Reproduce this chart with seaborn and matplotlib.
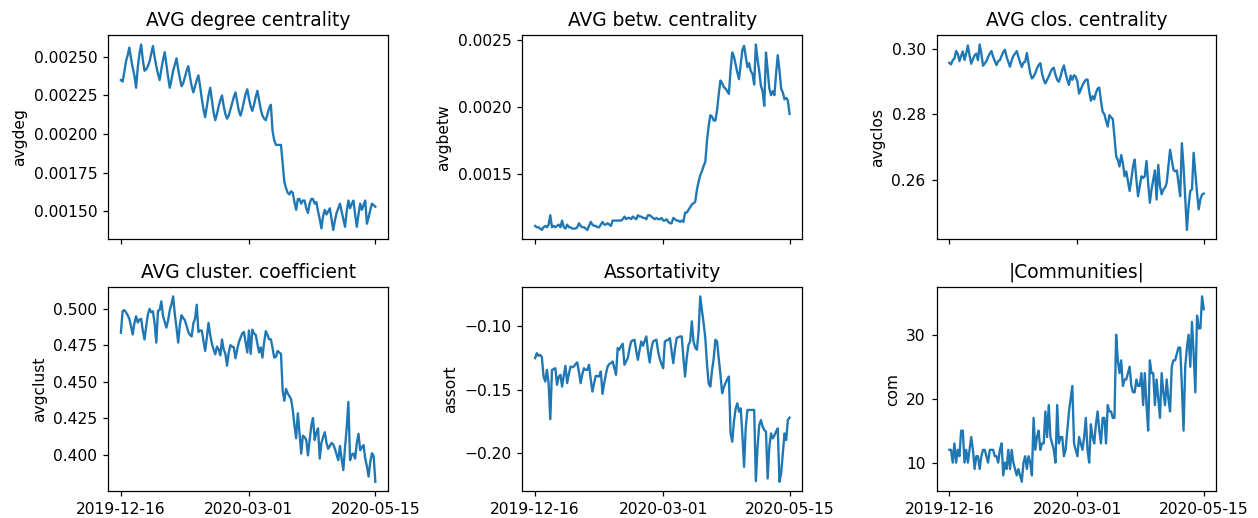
import matplotlib
matplotlib.use("Agg")
import matplotlib.pyplot as plt
import matplotlib.dates as mdates
import numpy as np
import pandas as pd
import seaborn as sns

# dni: 2019-12-16 .. 2020-05-15
start_date = "2019-12-16"
end_date = "2020-05-15"
tick_dates = ["2019-12-16", "2020-03-01", "2020-05-15"]

avgdeg = [
    0.00235, 0.00234, 0.00240, 0.00247, 0.00251, 0.00256, 0.00249, 0.00243, 0.00238, 0.00230,
    0.00243, 0.00252, 0.00258, 0.00248, 0.00241, 0.00242, 0.00244, 0.00247, 0.00252, 0.00257,
    0.00250, 0.00244, 0.00239, 0.00235, 0.00242, 0.00248, 0.00253, 0.00245, 0.00237, 0.00230,
    0.00235, 0.00241, 0.00245, 0.00249, 0.00242, 0.00236, 0.00231, 0.00233, 0.00237, 0.00241,
    0.00244, 0.00237, 0.00231, 0.00227, 0.00231, 0.00235, 0.00238, 0.00231, 0.00223, 0.00216,
    0.00211, 0.00218, 0.00225, 0.00230, 0.00222, 0.00214, 0.00209, 0.00213, 0.00218, 0.00222,
    0.00225, 0.00218, 0.00213, 0.00210, 0.00212, 0.00216, 0.00220, 0.00224, 0.00227, 0.00221,
    0.00215, 0.00212, 0.00216, 0.00221, 0.00226, 0.00229, 0.00223, 0.00218, 0.00215, 0.00219,
    0.00224, 0.00228, 0.00222, 0.00216, 0.00212, 0.00210, 0.00209, 0.00213, 0.00217, 0.00219,
    0.00202, 0.00196, 0.00193, 0.00193, 0.00193, 0.00193, 0.00181, 0.00169, 0.00165, 0.00162,
    0.00161, 0.00163, 0.00162, 0.00156, 0.00151, 0.00158, 0.00158, 0.00155, 0.00157, 0.00157,
    0.00152, 0.00149, 0.00155, 0.00158, 0.00158, 0.00155, 0.00156, 0.00150, 0.00145, 0.00139,
    0.00147, 0.00151, 0.00148, 0.00150, 0.00152, 0.00145, 0.00138, 0.00144, 0.00149, 0.00152,
    0.00155, 0.00150, 0.00145, 0.00140, 0.00150, 0.00157, 0.00152, 0.00155, 0.00157, 0.00148,
    0.00140, 0.00148, 0.00155, 0.00151, 0.00154, 0.00157, 0.00142, 0.00146, 0.00151, 0.00155,
    0.00154, 0.00153,
]

avgbetw = [
    0.00111, 0.00110, 0.00110, 0.00109, 0.00108, 0.00110, 0.00111, 0.00110, 0.00112, 0.00119,
    0.00110, 0.00111, 0.00110, 0.00111, 0.00112, 0.00110, 0.00115, 0.00110, 0.00109, 0.00112,
    0.00110, 0.00110, 0.00109, 0.00109, 0.00109, 0.00110, 0.00113, 0.00111, 0.00110, 0.00110,
    0.00109, 0.00108, 0.00111, 0.00114, 0.00112, 0.00111, 0.00111, 0.00110, 0.00110, 0.00112,
    0.00114, 0.00112, 0.00112, 0.00113, 0.00112, 0.00111, 0.00115, 0.00115, 0.00115, 0.00115,
    0.00115, 0.00115, 0.00116, 0.00118, 0.00116, 0.00117, 0.00117, 0.00116, 0.00118, 0.00117,
    0.00116, 0.00119, 0.00118, 0.00118, 0.00117, 0.00117, 0.00116, 0.00119, 0.00119, 0.00118,
    0.00117, 0.00116, 0.00117, 0.00116, 0.00116, 0.00117, 0.00115, 0.00115, 0.00116, 0.00114,
    0.00113, 0.00113, 0.00117, 0.00116, 0.00115, 0.00115, 0.00114, 0.00115, 0.00114, 0.00121,
    0.00121, 0.00123, 0.00125, 0.00127, 0.00128, 0.00129, 0.00138, 0.00144, 0.00149, 0.00152,
    0.00156, 0.00159, 0.00175, 0.00186, 0.00194, 0.00193, 0.00190, 0.00190, 0.00198, 0.00210,
    0.00220, 0.00218, 0.00215, 0.00214, 0.00212, 0.00210, 0.00228, 0.00241, 0.00238, 0.00232,
    0.00226, 0.00221, 0.00232, 0.00243, 0.00246, 0.00238, 0.00230, 0.00233, 0.00227, 0.00225,
    0.00217, 0.00247, 0.00236, 0.00227, 0.00216, 0.00212, 0.00201, 0.00241, 0.00228, 0.00214,
    0.00209, 0.00212, 0.00209, 0.00225, 0.00239, 0.00228, 0.00214, 0.00211, 0.00206, 0.00207,
    0.00205, 0.00195,
]

avgclos = [
    0.2957, 0.2952, 0.2965, 0.2970, 0.2993, 0.2985, 0.2962, 0.2978, 0.2992, 0.2966,
    0.2985, 0.3010, 0.2980, 0.2954, 0.2968, 0.2980, 0.2985, 0.2965, 0.3013, 0.2985,
    0.2948, 0.2955, 0.2962, 0.2975, 0.2985, 0.2993, 0.2975, 0.2962, 0.2950, 0.2962,
    0.2965, 0.2978, 0.2990, 0.2997, 0.2975, 0.2960, 0.2945, 0.2965, 0.2978, 0.2985,
    0.2993, 0.2975, 0.2958, 0.2944, 0.2958, 0.2960, 0.2987, 0.2955, 0.2925, 0.2909,
    0.2915, 0.2925, 0.2940, 0.2950, 0.2956, 0.2925, 0.2905, 0.2894, 0.2905, 0.2915,
    0.2928, 0.2938, 0.2942, 0.2920, 0.2905, 0.2899, 0.2915, 0.2935, 0.2949, 0.2925,
    0.2905, 0.2889, 0.2918, 0.2905, 0.2919, 0.2915, 0.2900, 0.2863, 0.2875, 0.2888,
    0.2898, 0.2905, 0.2906, 0.2870, 0.2841, 0.2855, 0.2845, 0.2865, 0.2878, 0.2881,
    0.2840, 0.2807, 0.2800, 0.2780, 0.2762, 0.2797, 0.2790, 0.2785, 0.2730, 0.2671,
    0.2660, 0.2640, 0.2675, 0.2650, 0.2610, 0.2625, 0.2595, 0.2565, 0.2600, 0.2640,
    0.2661, 0.2600, 0.2549, 0.2580, 0.2610, 0.2605, 0.2610, 0.2657, 0.2590, 0.2529,
    0.2570, 0.2600, 0.2628, 0.2539, 0.2645, 0.2580, 0.2555, 0.2570, 0.2575, 0.2590,
    0.2640, 0.2691, 0.2660, 0.2630, 0.2625, 0.2628, 0.2590, 0.2549, 0.2711, 0.2640,
    0.2540, 0.2446, 0.2520, 0.2565, 0.2570, 0.2682, 0.2620, 0.2560, 0.2509, 0.2540,
    0.2554, 0.2557,
]

avgclust = [
    0.4835, 0.4982, 0.4990, 0.4975, 0.4955, 0.4930, 0.4880, 0.4823, 0.4900, 0.4948,
    0.4905, 0.4925, 0.4930, 0.4850, 0.4789, 0.4880, 0.4960, 0.4998, 0.4975, 0.4982,
    0.4900, 0.4767, 0.4985, 0.4990, 0.5050, 0.4950, 0.4910, 0.4870, 0.4920, 0.4990,
    0.5030, 0.5084, 0.4960, 0.4869, 0.4767, 0.4890, 0.4955, 0.4935, 0.4920, 0.4880,
    0.4840, 0.4820, 0.4810, 0.4900, 0.4930, 0.5027, 0.4840, 0.4850, 0.4850, 0.4780,
    0.4710, 0.4800, 0.4903, 0.4820, 0.4760, 0.4720, 0.4687, 0.4740, 0.4720, 0.4680,
    0.4789, 0.4720, 0.4690, 0.4609, 0.4700, 0.4750, 0.4740, 0.4735, 0.4660, 0.4720,
    0.4770, 0.4801, 0.4830, 0.4840, 0.4770, 0.4700, 0.4850, 0.4690, 0.4856, 0.4830,
    0.4820, 0.4760, 0.4700, 0.4735, 0.4665, 0.4770, 0.4846, 0.4820, 0.4790, 0.4790,
    0.4730, 0.4665, 0.4670, 0.4710, 0.4700, 0.4690, 0.4437, 0.4369, 0.4450, 0.4420,
    0.4400, 0.4380, 0.4306, 0.4200, 0.4113, 0.4283, 0.4150, 0.4007, 0.4130, 0.4120,
    0.4100, 0.3995, 0.4100, 0.4200, 0.4250, 0.4100, 0.4150, 0.4180, 0.3973, 0.4080,
    0.4120, 0.4154, 0.4080, 0.4040, 0.4060, 0.4080, 0.4070, 0.4040, 0.4000, 0.3962,
    0.4060, 0.3970, 0.3894, 0.4050, 0.4180, 0.4361, 0.3962, 0.4000, 0.4007, 0.3973,
    0.4080, 0.4143, 0.4030, 0.4050, 0.4065, 0.3973, 0.3920, 0.3850, 0.3950, 0.4010,
    0.3990, 0.3814,
]

assort = [
    -0.1254, -0.1215, -0.1236, -0.1228, -0.1246, -0.1398, -0.1437, -0.1346, -0.1450, -0.1733,
    -0.1346, -0.1340, -0.1333, -0.1463, -0.1400, -0.1385, -0.1477, -0.1390, -0.1314, -0.1450,
    -0.1380, -0.1320, -0.1325, -0.1320, -0.1300, -0.1288, -0.1360, -0.1450, -0.1380, -0.1333,
    -0.1346, -0.1346, -0.1306, -0.1420, -0.1516, -0.1450, -0.1393, -0.1395, -0.1398, -0.1359,
    -0.1534, -0.1450, -0.1380, -0.1320, -0.1300, -0.1293, -0.1280, -0.1330, -0.1385, -0.1175,
    -0.1188, -0.1160, -0.1141, -0.1306, -0.1280, -0.1254, -0.1180, -0.1123, -0.1115, -0.1110,
    -0.1200, -0.1267, -0.1190, -0.1123, -0.1157, -0.1120, -0.1084, -0.1200, -0.1288, -0.1180,
    -0.1123, -0.1115, -0.1110, -0.1202, -0.1260, -0.1300, -0.1333, -0.1123, -0.1115, -0.1110,
    -0.1097, -0.1200, -0.1293, -0.1180, -0.1097, -0.1090, -0.1084, -0.1084, -0.1250, -0.1398,
    -0.1250, -0.1150, -0.1123, -0.0966, -0.1123, -0.1170, -0.1188, -0.1050, -0.0770, -0.0880,
    -0.0980, -0.1097, -0.1300, -0.1453, -0.1477, -0.1350, -0.1254, -0.1110, -0.1123, -0.1260,
    -0.1385, -0.1529, -0.1480, -0.1450, -0.1420, -0.1398, -0.1844, -0.1909, -0.1750, -0.1650,
    -0.1608, -0.1673, -0.1647, -0.1850, -0.2106, -0.1800, -0.1660, -0.1660, -0.1660, -0.1660,
    -0.1660, -0.2218, -0.1950, -0.1780, -0.1739, -0.1790, -0.1817, -0.1830, -0.2197, -0.1950,
    -0.1844, -0.1883, -0.1860, -0.1830, -0.1804, -0.2223, -0.2158, -0.2000, -0.1844, -0.1896,
    -0.1739, -0.1720,
]

com = [
    12, 12, 10, 13, 10, 12, 11, 15, 15, 10,
    12, 10, 12, 14, 12, 9, 11, 11, 9, 11,
    12, 12, 11, 10, 12, 12, 12, 11, 11, 10,
    12, 13, 8, 10, 9, 12, 9, 12, 10, 9,
    8, 9, 8, 7, 10, 11, 9, 11, 10, 8,
    17, 12, 14, 15, 12, 13, 13, 18, 14, 19,
    14, 13, 12, 10, 19, 13, 14, 14, 11, 12,
    15, 18, 20, 22, 13, 12, 11, 14, 13, 12,
    14, 17, 12, 10, 16, 14, 13, 16, 18, 15,
    13, 17, 17, 13, 19, 18, 18, 17, 17, 30,
    26, 24, 26, 22, 23, 23, 24, 25, 22, 21,
    21, 23, 22, 22, 24, 19, 24, 19, 15, 26,
    24, 24, 19, 23, 20, 17, 24, 21, 19, 23,
    20, 18, 25, 26, 26, 27, 28, 28, 22, 15,
    25, 28, 30, 25, 32, 27, 21, 33, 31, 31,
    36, 34,
]

titles = ["AVG degree centrality", "AVG betw. centrality", "AVG clos. centrality",
          "AVG cluster. coefficient", "Assortativity", "|Communities|"]
ylabels = ["avgdeg", "avgbetw", "avgclos", "avgclust", "assort", "com"]

days = pd.date_range(start_date, end_date, freq="D")
df = pd.DataFrame({"date": days, "avgdeg": avgdeg, "avgbetw": avgbetw, "avgclos": avgclos,
                   "avgclust": avgclust, "assort": assort, "com": com})

# wieksze dpi -> mniej tickow na osi, jak w oryginale
fig, axes = plt.subplots(2, 3, figsize=(1258 / 112, 518 / 112), dpi=112, sharex=True)
fig.subplots_adjust(left=0.086, right=0.967, top=0.932, bottom=0.052, wspace=0.48, hspace=0.235)

for ax, col, title in zip(axes.flat, ylabels, titles):
    sns.lineplot(data=df, x="date", y=col, ax=ax, color="#1f77b4", linewidth=1.5)
    ax.set_title(title)
    ax.set_ylabel(col)
    ax.set_xlabel("")

axes[0, 0].set_xticks(pd.to_datetime(tick_dates))
axes[0, 0].xaxis.set_major_formatter(mdates.DateFormatter("%Y-%m-%d"))

plt.savefig("out.png", dpi=112)
